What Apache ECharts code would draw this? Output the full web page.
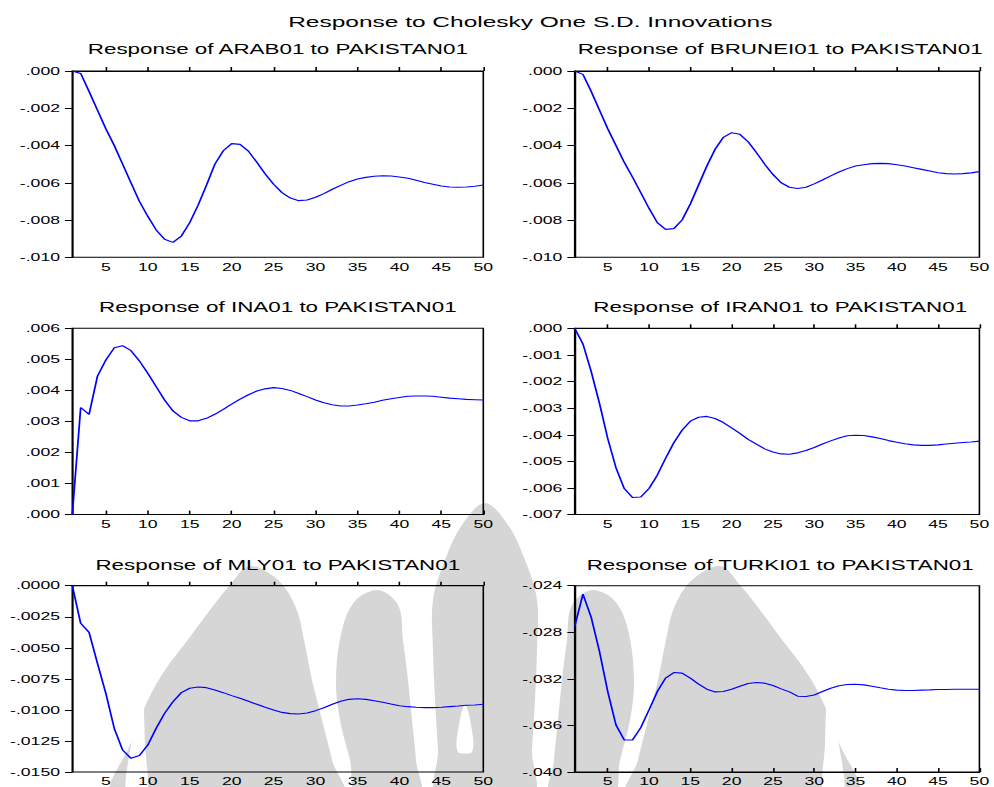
<!DOCTYPE html>
<html>
<head>
<meta charset="utf-8">
<script src="https://cdn.jsdelivr.net/npm/echarts@6/dist/echarts.min.js"></script>
<style>
  html, body { margin: 0; padding: 0; background: #fff; overflow: hidden; }
  #wrap { width: 994px; height: 787px; overflow: hidden; position: relative; }
  /* the figure is laid out narrow and widened, giving the wide EViews-style lettering */
  #chart { width: 621px; height: 787px; transform-origin: 0 0; }
</style>
</head>
<body>
<div id="wrap"><div id="chart"></div></div>
<script>
// Periods 1..50
const periods = Array.from({ length: 50 }, (_, i) => String(i + 1));

// Impulse responses to a Cholesky one S.D. PAKISTAN01 shock
const arab = [0, -0.00013, -0.0011, -0.0021, -0.0031, -0.0040, -0.0050, -0.0060, -0.0070, -0.0078,
  -0.00853, -0.00903, -0.0092, -0.00886, -0.00814, -0.0072, -0.00612, -0.0050, -0.00428, -0.0039,
  -0.00394, -0.0043, -0.0049, -0.00553, -0.00608, -0.00653, -0.00682, -0.00696, -0.00692, -0.00678,
  -0.00658, -0.00635, -0.00614, -0.00594, -0.0058, -0.00571, -0.00565, -0.00562, -0.00564, -0.00569,
  -0.00576, -0.00587, -0.00598, -0.00608, -0.00617, -0.00623, -0.00624, -0.00623, -0.00619, -0.00612];

const brunei = [0, -0.00018, -0.0011, -0.0021, -0.0031, -0.0040, -0.0049, -0.0057, -0.00653, -0.00737,
  -0.00814, -0.0085, -0.00846, -0.0080, -0.00714, -0.00612, -0.0051, -0.0042, -0.00356, -0.00331,
  -0.0034, -0.0038, -0.00438, -0.0050, -0.00555, -0.0060, -0.00624, -0.00631, -0.00624, -0.00606,
  -0.00585, -0.00563, -0.00542, -0.00524, -0.0051, -0.00503, -0.00497, -0.00496, -0.00497, -0.00503,
  -0.0051, -0.00519, -0.00528, -0.00537, -0.00546, -0.00551, -0.00553, -0.00551, -0.00547, -0.0054];

const ina = [0, 0.00345, 0.00323, 0.00446, 0.00498, 0.00537, 0.00544, 0.00528, 0.00495, 0.00455,
  0.00412, 0.00369, 0.00334, 0.00313, 0.00302, 0.00302, 0.0031, 0.00323, 0.00339, 0.00356,
  0.00372, 0.00386, 0.00398, 0.00405, 0.00409, 0.00406, 0.0040, 0.0039, 0.0038, 0.00369,
  0.0036, 0.00354, 0.0035, 0.0035, 0.00353, 0.00357, 0.00362, 0.00368, 0.00373, 0.00377,
  0.00381, 0.00382, 0.00382, 0.00381, 0.00378, 0.00375, 0.00373, 0.00371, 0.0037, 0.00369];

const iran = [0, -0.00059, -0.00163, -0.00282, -0.00414, -0.00524, -0.00602, -0.00636, -0.00634, -0.00602,
  -0.00552, -0.00489, -0.0043, -0.00383, -0.00349, -0.00334, -0.00331, -0.00339, -0.00354, -0.00374,
  -0.00395, -0.00417, -0.00435, -0.00453, -0.00465, -0.00472, -0.00473, -0.00468, -0.00459, -0.00448,
  -0.00435, -0.00423, -0.00412, -0.00404, -0.00402, -0.00403, -0.00408, -0.00414, -0.00422, -0.00428,
  -0.00434, -0.00438, -0.0044, -0.0044, -0.00438, -0.00435, -0.00432, -0.00429, -0.00427, -0.00424];

const mly = [0, -0.00303, -0.00376, -0.00625, -0.00867, -0.01148, -0.01323, -0.0139, -0.01368, -0.01283,
  -0.01148, -0.01028, -0.00934, -0.00861, -0.00826, -0.00816, -0.00821, -0.0084, -0.00861, -0.00885,
  -0.00907, -0.00931, -0.00955, -0.00979, -0.01001, -0.0102, -0.0103, -0.01033, -0.01025, -0.01006,
  -0.00982, -0.00955, -0.00931, -0.00915, -0.0091, -0.00915, -0.00926, -0.00939, -0.00953, -0.00966,
  -0.00974, -0.00979, -0.00982, -0.00982, -0.00979, -0.00974, -0.00969, -0.00963, -0.00961, -0.00955];

const turki = [-0.0275, -0.02472, -0.02672, -0.02965, -0.03309, -0.03596, -0.03725, -0.03725, -0.03619, -0.03467,
  -0.03309, -0.03194, -0.03146, -0.03151, -0.03194, -0.03246, -0.03289, -0.03312, -0.03309, -0.03289,
  -0.03263, -0.0324, -0.03232, -0.03237, -0.03257, -0.03286, -0.03312, -0.03349, -0.03352, -0.03338,
  -0.03309, -0.0328, -0.0326, -0.03249, -0.03246, -0.03252, -0.03263, -0.03277, -0.03289, -0.03297,
  -0.033, -0.033, -0.03297, -0.03295, -0.03292, -0.03292, -0.03289, -0.03289, -0.03289, -0.03289];

// Value axis scales: [min, max, interval, decimals]
const arabAxis   = [-0.010, 0.000, 0.002, 3];
const bruneiAxis = [-0.010, 0.000, 0.002, 3];
const inaAxis    = [0.000, 0.006, 0.001, 3];
const iranAxis   = [-0.007, 0.000, 0.001, 3];
const mlyAxis    = [-0.0150, 0.0000, 0.0025, 4];
const turkiAxis  = [-0.040, -0.024, 0.004, 3];

const mainTitle = 'Response to Cholesky One S.D. Innovations';
const shockName = 'PAKISTAN01';
const panelNames = ['ARAB01', 'BRUNEI01', 'INA01', 'IRAN01', 'MLY01', 'TURKI01'];

const seriesData = [arab, brunei, ina, iran, mly, turki];
const axes = [arabAxis, bruneiAxis, inaAxis, iranAxis, mlyAxis, turkiAxis];

// ---- layout (final page pixels, converted to the narrow drawing space) ----
const el = document.getElementById('chart');
const S = 994 / 621;
el.style.transform = 'scaleX(' + S + ')';

const colLeft = [72.3, 574.7];
const plotW = 411;
const rowTop = [71, 328.3, 585.7];
const plotH = 186.3;
const titleY = [49.3, 307.5, 564.7];
const FONT = 'Liberation Sans, Arial, Helvetica, sans-serif';

function fmt(dec) {
  return function (v) {
    let s = Math.abs(v) < 1e-12 ? (0).toFixed(dec) : v.toFixed(dec);
    return s.replace(/^(-?)0\./, '$1.');
  };
}
const every5 = function (idx) { return (idx + 1) % 5 === 0; };

const grid = [], xAxis = [], yAxis = [], series = [], graphic = [];

// ---- faint grey page emblem behind the lower panels ----
const MARK = '#d6d6d6';
const AXIS_X = 970;            // emblem is mirror-symmetric about x = AXIS_X / 2
function toSpace(pts) { return pts.map(p => [p[0] / S, p[1]]); }
function mirror(pts) { return pts.map(p => [AXIS_X - p[0], p[1]]); }
function blob(pts, fill) {
  return { type: 'polygon', z: -10, silent: true,
    shape: { points: toSpace(pts), smooth: 0.35 }, style: { fill: fill } };
}
const flame = [[485, 503], [462, 525], [445, 560], [433, 600], [433, 650], [435, 700], [438, 750],
  [440, 800], [530, 800], [532, 750], [535, 700], [537, 650], [537, 600], [525, 560], [508, 525]];
const innerLeaf = [[378, 590], [356, 600], [342, 630], [336, 680], [340, 720], [350, 760], [360, 800],
  [418, 800], [416, 760], [412, 720], [408, 680], [403, 640], [398, 605]];
const outerLeaf = [[250, 566], [230, 585], [210, 610], [190, 637], [165, 670], [148, 700], [132, 740],
  [117, 800], [340, 800], [332, 760], [322, 720], [312, 680], [304, 640], [296, 608], [278, 580]];
const sliver = [[465, 705], [459, 725], [458, 752], [472, 752], [471, 725]];
const spike = [[142, 700], [131, 745], [127, 800], [146, 800], [145, 745]];

graphic.push(blob(flame, MARK), blob(innerLeaf, MARK), blob(mirror(innerLeaf), MARK),
  blob(outerLeaf, MARK), blob(mirror(outerLeaf), MARK),
  blob(sliver, '#fff'), blob(spike, '#fff'), blob(mirror(spike), '#fff'));

graphic.push({
  type: 'text', x: 530.3 / S, y: 21.5,
  style: { text: mainTitle, fill: '#000', font: '15.3px ' + FONT, align: 'center', verticalAlign: 'middle' }
});

for (let i = 0; i < 6; i++) {
  const c = i % 2, r = Math.floor(i / 2);
  const ax = axes[i];
  grid.push({
    left: colLeft[c] / S, top: rowTop[r], width: plotW / S, height: plotH,
    show: true, borderColor: '#000', borderWidth: 1, backgroundColor: 'transparent'
  });
  xAxis.push({
    type: 'category', gridIndex: i, data: periods, boundaryGap: false,
    axisLine: { lineStyle: { color: '#000', width: 1 } },
    axisTick: { inside: true, length: 4, interval: every5, lineStyle: { color: '#000' } },
    axisLabel: { interval: every5, color: '#000', fontFamily: FONT, fontSize: 11, margin: 4 },
    splitLine: { show: false }
  });
  yAxis.push({
    type: 'value', gridIndex: i, min: ax[0], max: ax[1], interval: ax[2],
    axisLine: { show: true, lineStyle: { color: '#000', width: 1 } },
    axisTick: { show: true, inside: false, length: 4.6, lineStyle: { color: '#000' } },
    axisLabel: { formatter: fmt(ax[3]), color: '#000', fontFamily: FONT, fontSize: 11, margin: 7.7 },
    splitLine: { show: false }
  });
  series.push({
    type: 'line', xAxisIndex: i, yAxisIndex: i, data: seriesData[i],
    showSymbol: false, symbol: 'none', smooth: false, silent: true,
    lineStyle: { color: '#0000ff', width: 1.1 }
  });
  graphic.push({
    type: 'text', x: (colLeft[c] + plotW / 2) / S, y: titleY[r],
    style: {
      text: 'Response of ' + panelNames[i] + ' to ' + shockName,
      fill: '#000', font: '14px ' + FONT, align: 'center', verticalAlign: 'middle'
    }
  });
}

const chart = echarts.init(el, null, { renderer: 'svg' });
chart.setOption({
  animation: false,
  backgroundColor: '#fff',
  grid, xAxis, yAxis, series, graphic
});
</script>
</body>
</html>
